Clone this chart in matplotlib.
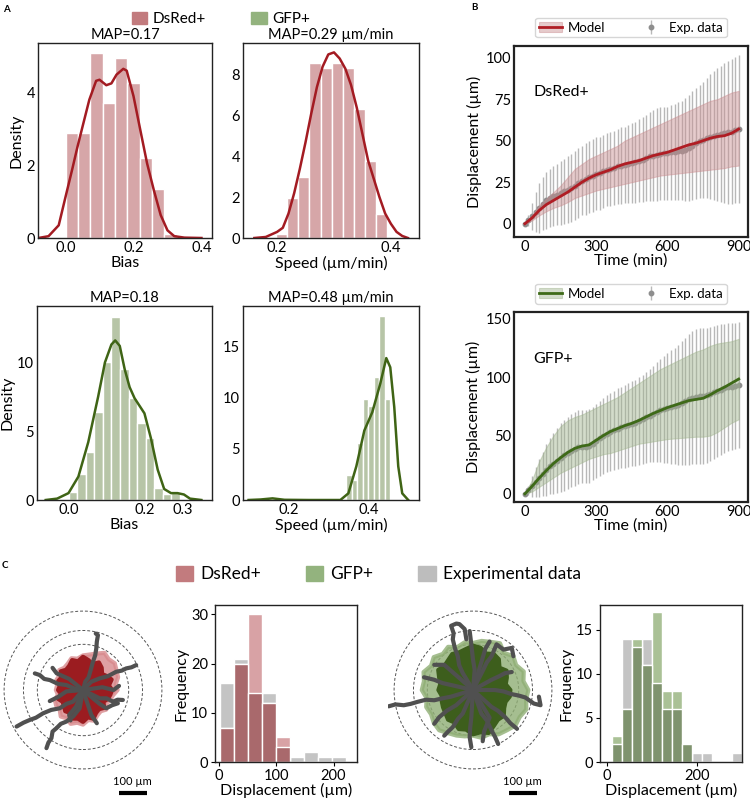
import numpy as np
import matplotlib
matplotlib.use("Agg")
import matplotlib.pyplot as plt
from matplotlib.patches import Patch, Circle, Polygon

plt.rcParams['font.family'] = ['Lato', 'DejaVu Sans']

# ---------------- panel A data ----------------
red_bias_edges = [0.0, 0.0364, 0.0728, 0.1092, 0.1456, 0.182, 0.2184, 0.2548, 0.2912, 0.3276]
red_bias_dens = [2.88, 2.88, 5.08, 3.7, 4.95, 4.26, 2.19, 1.36, 0.12]
red_bias_kde_x = [-0.08, -0.05, -0.02, 0.0, 0.02, 0.035, 0.05, 0.07, 0.09, 0.1, 0.12, 0.135, 0.15,
                  0.17, 0.18, 0.2, 0.22, 0.24, 0.26, 0.28, 0.3, 0.32, 0.35, 0.4]
red_bias_kde_y = [0.0, 0.05, 0.35, 1.13, 1.9, 2.5, 3.06, 3.8, 4.32, 4.35, 4.2, 4.25, 4.49,
                  4.65, 4.6, 3.9, 2.97, 2.05, 1.31, 0.63, 0.21, 0.05, 0.01, 0.0]

red_speed_edges = [0.198, 0.2174, 0.236, 0.2564, 0.2767, 0.2959, 0.315, 0.3349, 0.354, 0.3738, 0.393]
red_speed_dens = [0.2, 1.97, 3.0, 8.57, 8.33, 8.57, 8.33, 6.31, 3.77, 1.2]
red_speed_kde_x = [0.16, 0.18, 0.2, 0.21, 0.22, 0.23, 0.24, 0.25, 0.26, 0.27, 0.28, 0.29, 0.3,
                   0.31, 0.32, 0.33, 0.34, 0.35, 0.36, 0.37, 0.38, 0.39, 0.4, 0.41, 0.42, 0.43]
red_speed_kde_y = [0.0, 0.05, 0.3, 0.5, 1.2, 2.2, 3.4, 4.7, 6.1, 7.4, 8.4, 9.0, 9.1,
                   8.8, 8.3, 7.5, 6.4, 5.1, 3.8, 2.9, 2.0, 1.2, 0.7, 0.3, 0.1, 0.0]

grn_bias_edges = [0.0, 0.0226, 0.0452, 0.0678, 0.0904, 0.113, 0.1356, 0.1582, 0.1808, 0.2034,
                  0.226, 0.2486, 0.2712, 0.2938]
grn_bias_dens = [0.6, 1.9, 3.5, 6.4, 10.0, 13.3, 9.5, 7.4, 5.6, 4.5, 0.9, 0.4, 0.6]
grn_bias_kde_x = [-0.06, -0.03, 0.0, 0.026, 0.052, 0.078, 0.096, 0.113, 0.123, 0.135, 0.148,
                  0.161, 0.174, 0.2, 0.217, 0.235, 0.252, 0.27, 0.287, 0.304, 0.32, 0.35]
grn_bias_kde_y = [0.0, 0.1, 0.5, 1.7, 4.2, 7.5, 10.0, 11.3, 11.6, 11.2, 9.5, 8.2, 7.4,
                  6.3, 4.5, 2.2, 0.8, 0.5, 0.5, 0.4, 0.1, 0.0]

grn_speed_edges = [0.344, 0.3579, 0.3718, 0.3857, 0.3996, 0.4135, 0.4274, 0.4413, 0.4552, 0.4691]
grn_speed_dens = [2.4, 2.0, 5.6, 9.9, 9.2, 12.0, 18.0, 9.9, 0.0]
grn_speed_kde_x = [0.1, 0.13, 0.16, 0.19, 0.25, 0.33, 0.35, 0.37, 0.39, 0.41, 0.43, 0.445,
                   0.455, 0.465, 0.475, 0.485, 0.5]
grn_speed_kde_y = [0.0, 0.05, 0.16, 0.02, 0.0, 0.0, 0.65, 3.3, 6.8, 8.6, 11.4, 13.9,
                   13.0, 9.1, 3.3, 0.65, 0.0]

# ---------------- panel B data ----------------
t_exp = np.arange(0, 901, 15)
t_mod = np.arange(0, 901, 30)

red_exp_mean = [0, 2, 4.5, 7, 9.5, 12, 14, 15.5, 16.5, 17.5, 18.5, 19.5, 20.5, 21.5, 23, 24.5,
                26, 27, 28, 29, 30, 30.5, 31.5, 32.5, 33, 33.5, 34.5, 35, 35.5, 36, 36.5, 37,
                38, 38.5, 39.5, 40.5, 41, 41.5, 42, 42.5, 42.5, 43, 43, 43.5, 44, 44.5, 45.5,
                47, 48.5, 49.5, 50.5, 51.5, 52.5, 53, 53.5, 54, 54.5, 55, 55.5, 56.5, 57]
red_exp_sd = [0, 3.5, 8, 12, 15, 16, 17, 17.5, 18, 18.5, 19, 19.5, 20, 20.5, 21, 21, 21, 21.5,
              21.5, 22, 22, 22, 22, 22, 22.5, 22.5, 22.5, 23, 23, 23.5, 24, 24.5, 25, 25.5, 26,
              27, 27.5, 28, 28, 28, 28, 28.5, 29, 29.5, 30, 31, 32, 33, 33.5, 34, 35, 36, 37.5,
              39, 40, 41, 42, 43, 43.5, 44, 44.5]
red_mod_mean = [0, 3.5, 8, 11.5, 14, 16.5, 19, 22, 25, 27.5, 29.5, 31, 32.5, 34.5, 36, 37, 38,
                39.5, 41, 42, 43, 44.5, 46, 47.5, 48.5, 50, 51.5, 52.5, 53, 54.5, 57]
red_mod_hi = [0, 5, 11, 15, 19, 23, 28, 33, 36, 39, 41, 43, 45, 47, 50, 52, 54, 56, 58, 60, 62,
              64, 66, 68, 70, 72, 74, 75, 77, 79, 80]
red_mod_lo = [0, 2, 5, 7.5, 9.5, 11, 13, 15.5, 17, 18.5, 20, 21, 22, 23, 24, 25, 26, 27, 28, 29,
              29.5, 30, 30.5, 31, 31.5, 32, 32.5, 33, 33.5, 34.5, 35]

grn_exp_mean = [0, 3, 6.5, 10, 13.5, 17, 20.5, 23.5, 26, 28.5, 31, 33, 35, 37, 38.5, 40, 40.5,
                40.5, 41, 43, 45.5, 47.5, 49.5, 51.5, 53, 54.5, 56, 57, 58, 59, 60, 61, 62.5,
                64, 65.5, 67, 68.5, 70, 71.5, 72.5, 73.5, 74.5, 75.5, 76.5, 78, 79.5, 81, 82.5,
                83.5, 84, 84, 84.5, 85.5, 87, 88.5, 89.5, 90.5, 91.5, 92, 92.5, 93]
grn_exp_sd = [0, 4, 9, 13, 16, 19, 22, 24, 26, 28, 29.5, 30.5, 31, 31.5, 31.5, 31.5, 31.5,
              31.5, 31.5, 31.5, 31.5, 32, 32.5, 33, 33.5, 34, 34.5, 35, 35.5, 36, 36.5, 37,
              37.5, 38, 39, 40, 41.5, 43, 44.5, 46, 47, 48.5, 50, 51.5, 53, 54.5, 56, 57, 57.5,
              58, 58, 58, 57.5, 57, 56.5, 56, 55.5, 55, 54.5, 54, 54]
grn_mod_mean = [0, 6.5, 13.5, 20, 26, 31, 35.5, 39, 41, 42, 46, 50, 53.5, 56, 58.5, 60.5, 63,
                66, 69, 71.5, 74, 76, 78, 80, 81, 82, 85, 88.5, 91.5, 95, 98.5]
grn_mod_hi = [0, 12, 28, 40, 50, 58, 63, 66, 68, 71, 74, 77, 80, 83, 87, 91, 95, 99, 103, 107,
              110, 113, 116, 119, 122, 124, 127, 129, 130, 131, 133]
grn_mod_lo = [0, 2, 6, 10, 14, 18, 21, 24, 27, 30, 32, 34, 35, 37, 39, 41, 43, 44, 45, 46, 47,
              47.5, 48, 48.5, 49, 49, 50, 53, 57, 61, 64]

# ---------------- panel C data ----------------
ring_radii = [90, 165, 215, 285]          # um
angles_deg = np.arange(0, 360, 10)
red_core_r = [105, 95, 110, 100, 90, 105, 115, 100, 110, 120, 105, 115, 100, 95, 105, 90, 95, 85,
              90, 80, 95, 85, 90, 100, 95, 110, 105, 115, 100, 110, 95, 90, 100, 85, 95, 100]
red_fringe_r = [125, 120, 135, 140, 150, 145, 155, 140, 130, 125, 115, 122, 110, 105, 112, 100,
                103, 95, 98, 92, 108, 112, 110, 125, 118, 130, 120, 125, 110, 118, 105, 100,
                110, 98, 105, 110]
grn_core_r = [135, 120, 130, 140, 125, 145, 150, 140, 155, 160, 150, 145, 150, 140, 135, 145,
              130, 120, 125, 115, 120, 125, 130, 140, 135, 150, 145, 160, 155, 165, 150, 140,
              145, 130, 125, 135]
grn_fringe_r = [200, 185, 195, 180, 190, 175, 195, 185, 180, 170, 175, 165, 180, 170, 185, 175,
                190, 180, 185, 170, 180, 175, 185, 190, 180, 175, 170, 165, 175, 170, 185, 190,
                200, 195, 205, 195]

red_tracks = [
    [(0, 0), (8, 30), (20, 45), (30, 80), (36, 102), (44, 125), (48, 150), (50, 175), (54, 198), (46, 204)],
    [(0, 0), (30, 30), (60, 42), (90, 50), (120, 66), (140, 70), (156, 78), (175, 82), (192, 90)],
    [(0, 0), (-30, 5), (-60, 18), (-90, 22), (-120, 36), (-140, 40), (-156, 54), (-174, 60)],
    [(0, 0), (-36, -42), (-60, -50), (-84, -66), (-115, -72), (-144, -84), (-170, -100),
     (-192, -108), (-215, -118), (-240, -132)],
    [(0, 0), (-12, -66), (-35, -95), (-60, -114), (-80, -122), (-96, -138), (-110, -150),
     (-114, -174), (-125, -190), (-132, -210)],
    [(0, 0), (60, -30), (85, -30), (108, -42), (125, -35), (144, -36)],
    [(0, 0), (60, -50), (84, -66), (105, -55), (126, -48)],
    [(0, 0), (-60, -5), (-90, -25), (-120, -40)],
    [(0, 0), (20, -60), (30, -90), (50, -120)],
    [(0, 0), (-50, 40), (-95, 60), (-110, 80)],
    [(0, 0), (70, 10), (110, 0), (130, 15)],
    [(0, 0), (-25, -60), (-50, -90), (-45, -110)],
]
grn_tracks = [
    [(0, 0), (-79, -24), (-110, -30), (-140, -37), (-170, -35), (-201, -43), (-225, -50),
     (-250, -55), (-280, -52), (-305, -59)],
    [(0, 0), (-37, 61), (-50, 90), (-55, 122), (-65, 150), (-73, 183), (-70, 205), (-79, 232),
     (-60, 240), (-49, 238), (-30, 220), (-24, 183)],
    [(0, 0), (6, 73), (0, 110), (-4, 146), (-8, 180), (-12, 213)],
    [(0, 0), (37, 73), (50, 100), (67, 122), (85, 165), (110, 146), (140, 152), (146, 122)],
    [(0, 0), (79, 0), (110, -5), (140, -15), (165, -20), (189, -27), (220, -49), (244, -55),
     (238, -24)],
    [(0, 0), (67, -61), (90, -75), (116, -98), (135, -120), (159, -140)],
    [(0, 0), (30, -85), (50, -110), (67, -146), (80, -170), (91, -195)],
    [(0, 0), (-37, -85), (-55, -105), (-73, -134), (-90, -150), (-104, -165)],
    [(0, 0), (-79, 18), (-110, 25), (-140, 37), (-177, 46)],
    [(0, 0), (-49, 43), (-80, 70), (-104, 91), (-140, 91)],
    [(0, 0), (-61, -55), (-95, -75), (-122, -98), (-140, -122)],
    [(0, 0), (-6, -98), (-10, -135), (-12, -171), (-6, -207)],
    [(0, 0), (67, 37), (95, 50), (116, 61), (140, 65)],
    [(0, 0), (30, 100), (45, 150), (60, 175)],
    [(0, 0), (60, -100), (40, -150), (35, -185)],
]

red_disp_edges = [1, 25.5, 50, 74.5, 99, 123.5, 148, 172.5, 197, 221.5]
red_disp_exp = [16, 21, 14, 14, 3, 1, 2, 1, 1]
red_disp_mod = [7, 20, 30, 12, 5, 0, 0, 0, 0]
grn_disp_edges = [13, 34.9, 56.8, 78.7, 100.6, 122.5, 144.4, 166.3, 188.2, 210.1, 232, 253.9,
                  275.8, 297.7]
grn_disp_exp = [2, 14, 13, 14, 9, 6, 6, 2, 1, 1, 0, 0, 1]
grn_disp_mod = [3, 6, 14, 11, 17, 8, 8, 2, 0, 0, 0, 0, 0]

RED_BAR, RED_LINE = '#d6a6a8', '#a31b22'
GRN_BAR, GRN_LINE = '#b7c5a7', '#3f6415'
W, H = 750, 798

fig = plt.figure(figsize=(7.5, 7.98), dpi=100)


def px_axes(l, t, r, b):
    return fig.add_axes([l / W, 1 - b / H, (r - l) / W, (b - t) / H])


def style(ax, lw=1.0, ticks=False):
    for s in ax.spines.values():
        s.set_linewidth(lw)
        s.set_color('#222222')
    ax.tick_params(labelsize=10.5, length=3 if ticks else 0, pad=2)


def hist_panel(ax, edges, dens, kx, ky, bar_c, line_c, title, xlabel, ylabel=None):
    e = np.asarray(edges)
    ax.bar(e[:-1], dens, width=np.diff(e), align='edge', color=bar_c, edgecolor='white', lw=1)
    ax.plot(kx, ky, color=line_c, lw=1.8)
    ax.set_title(title, fontsize=10.5, pad=3)
    ax.set_xlabel(xlabel, fontsize=11.5, labelpad=1)
    if ylabel:
        ax.set_ylabel(ylabel, fontsize=11.5, labelpad=2)
    style(ax)


# ---- A ----
a1 = px_axes(38, 43, 212, 238)
hist_panel(a1, red_bias_edges, red_bias_dens, red_bias_kde_x, red_bias_kde_y, RED_BAR, RED_LINE,
           'MAP=0.17', 'Bias', 'Density')
a1.set_xlim(-0.081, 0.431); a1.set_ylim(0, 5.36)
a1.set_xticks([0.0, 0.2, 0.4]); a1.set_yticks([0, 2, 4])

a2 = px_axes(243, 43, 419, 238)
hist_panel(a2, red_speed_edges, red_speed_dens, red_speed_kde_x, red_speed_kde_y, RED_BAR, RED_LINE,
           'MAP=0.29 µm/min', 'Speed (µm/min)')
a2.set_xlim(0.14, 0.4495); a2.set_ylim(0, 9.56)
a2.set_xticks([0.2, 0.4]); a2.set_yticks([0, 2, 4, 6, 8])

a3 = px_axes(37, 306, 212, 500)
hist_panel(a3, grn_bias_edges, grn_bias_dens, grn_bias_kde_x, grn_bias_kde_y, GRN_BAR, GRN_LINE,
           'MAP=0.18', 'Bias', 'Density')
a3.set_xlim(-0.083, 0.378); a3.set_ylim(0, 14.1)
a3.set_xticks([0.0, 0.2, 0.3]); a3.set_yticks([0, 5, 10])

a4 = px_axes(243, 306, 419, 500)
hist_panel(a4, grn_speed_edges, grn_speed_dens, grn_speed_kde_x, grn_speed_kde_y, GRN_BAR, GRN_LINE,
           'MAP=0.48 µm/min', 'Speed (µm/min)')
a4.set_xlim(0.086, 0.527); a4.set_ylim(0, 19.0)
a4.set_xticks([0.2, 0.4]); a4.set_yticks([0, 5, 10, 15])

fig.legend(handles=[Patch(color='#c27b7e', label='DsRed+'), Patch(color='#93b37e', label='GFP+')],
           loc='upper left', bbox_to_anchor=(118 / W, 1 + 2 / H), ncol=2, frameon=False,
           fontsize=11, handlelength=1.0, handleheight=0.9, handletextpad=0.35, columnspacing=3.0)


# ---- B ----
def disp_panel(ax, exp_mean, exp_sd, mod_mean, mod_lo, mod_hi, line_c, band_c, label, ymax, yt):
    eb = ax.errorbar(t_exp, exp_mean, yerr=exp_sd, fmt='o', ms=3.2, color='#8e8e8e',
                     ecolor='#b8b8b8', elinewidth=1.0, capsize=0, zorder=2)
    band = ax.fill_between(t_mod, mod_lo, mod_hi, color=band_c, alpha=0.45, lw=0.8, zorder=3)
    ln, = ax.plot(t_mod, mod_mean, color=line_c, lw=2, zorder=4)
    ax.text(34, ymax * 0.72, label, fontsize=11.5)
    ax.set_xlim(-46, 939)
    ax.set_xticks([0, 300, 600, 900]); ax.set_yticks(yt)
    ax.set_xlabel('Time (min)', fontsize=11.5, labelpad=0)
    ax.set_ylabel('Displacement (µm)', fontsize=11.5, labelpad=3)
    style(ax, lw=1.6)
    ax.legend([(band, ln), eb], ['Model', 'Exp. data'], loc='lower center',
              bbox_to_anchor=(0.5, 1.01), ncol=2, fontsize=9.5, columnspacing=2.6,
              handlelength=1.7, handletextpad=0.5, fancybox=True, edgecolor='#cccccc',
              borderpad=0.3)


b1 = px_axes(514, 46, 748, 237)
disp_panel(b1, red_exp_mean, red_exp_sd, red_mod_mean, red_mod_lo, red_mod_hi, '#b01d24',
           '#c98c8f', 'DsRed+', 107, [0, 25, 50, 75, 100])
b1.set_ylim(-8, 107)

b2 = px_axes(514, 312, 748, 502)
disp_panel(b2, grn_exp_mean, grn_exp_sd, grn_mod_mean, grn_mod_lo, grn_mod_hi, '#3e6a18',
           '#9fb38c', 'GFP+', 156, [0, 50, 100, 150])
b2.set_ylim(-7, 156)


# ---- C ----
def spider(ax, core_r, fringe_r, tracks, core_c, fringe_c):
    th = np.deg2rad(angles_deg)
    for r in ring_radii:
        ax.add_patch(Circle((0, 0), r, fill=False, ls=(0, (3, 2)), lw=0.7, color='#555555'))
    fr = np.asarray(fringe_r)
    ax.add_patch(Polygon(np.c_[fr * np.cos(th), fr * np.sin(th)], closed=True,
                         color=fringe_c, alpha=0.8, lw=3, joinstyle='round'))
    for tr in tracks:
        xy = np.asarray(tr)
        ax.plot(xy[:, 0], xy[:, 1], color='#505050', lw=3, solid_capstyle='round',
                solid_joinstyle='round')
    cr = np.asarray(core_r)
    ax.add_patch(Polygon(np.c_[cr * np.cos(th), cr * np.sin(th)], closed=True,
                         color=core_c, lw=3, joinstyle='round'))
    ax.plot([130, 230], [-372, -372], color='black', lw=3, solid_capstyle='butt')
    ax.text(180, -352, '100 µm', ha='center', va='bottom', fontsize=8)
    ax.set_xlim(-307, 307); ax.set_ylim(-390, 307)
    ax.set_aspect('equal'); ax.axis('off')


s1 = px_axes(-2, 605, 168, 798)
spider(s1, red_core_r, red_fringe_r, red_tracks, '#9b1c20', '#d8898c')
s2 = px_axes(388, 605, 558, 798)
spider(s2, grn_core_r, grn_fringe_r, grn_tracks, '#3d5e1c', '#8fae74')


def disp_hist(ax, edges, exp_c, mod_c, mod_only, overlap):
    e = np.asarray(edges)
    w = np.diff(e)
    both = np.minimum(exp_c, mod_c)
    ax.bar(e[:-1], exp_c, width=w, align='edge', color='#c4c4c4', edgecolor='white', lw=1)
    ax.bar(e[:-1], mod_c, width=w, align='edge', color=mod_only, edgecolor='white', lw=1)
    ax.bar(e[:-1], both, width=w, align='edge', color=overlap, edgecolor='white', lw=1)
    ax.set_xlabel('Displacement (µm)', fontsize=11.5, labelpad=0)
    ax.set_ylabel('Frequency', fontsize=11.5, labelpad=2)
    style(ax, ticks=True)


h1 = px_axes(215, 605, 357, 762)
disp_hist(h1, red_disp_edges, red_disp_exp, red_disp_mod, '#d8a2a5', '#a9696c')
h1.set_xlim(-7, 241); h1.set_ylim(0, 31.9)
h1.set_xticks([0, 100, 200]); h1.set_yticks([0, 10, 20, 30])

h2 = px_axes(600, 605, 742, 762)
disp_hist(h2, grn_disp_edges, grn_disp_exp, grn_disp_mod, '#aac196', '#7f936e')
h2.set_xlim(-14.5, 298); h2.set_ylim(0, 17.8)
h2.set_xticks([0, 200]); h2.set_yticks([0, 5, 10, 15])

fig.legend(handles=[Patch(color='#c27b7e', label='DsRed+'), Patch(color='#93b37e', label='GFP+'),
                    Patch(color='#bdbdbd', label='Experimental data')],
           loc='center left', bbox_to_anchor=(160 / W, 1 - 574 / H), ncol=3, frameon=False,
           fontsize=12.5, handlelength=1.0, handleheight=1.0, handletextpad=0.4, columnspacing=2.6)

for lab, x, y in [('A', 3, 10), ('B', 471, 8), ('C', 2, 566)]:
    fig.text(x / W, 1 - y / H, lab, fontsize=7, fontweight='bold', va='center')

fig.savefig('out.png', dpi=100)
